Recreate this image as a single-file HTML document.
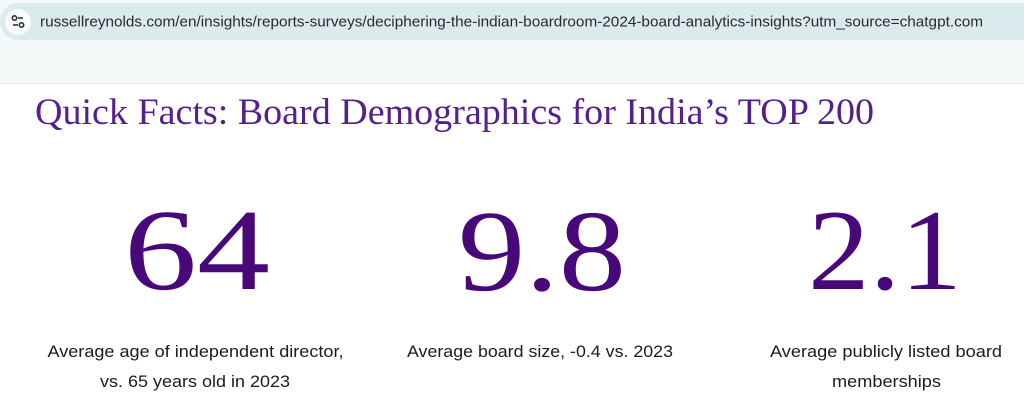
<!DOCTYPE html>
<html><head><meta charset="utf-8"><style>
html,body{margin:0;padding:0;background:#fff;width:1024px;height:420px;overflow:hidden}
svg{display:block}
</style></head><body>
<svg width="1024" height="420" viewBox="0 0 1024 420" xmlns="http://www.w3.org/2000/svg">
<rect x="0" y="0" width="1024" height="83" fill="#f3f8f9"/>
<rect x="0" y="83" width="1024" height="1" fill="#e2e8ea"/>
<rect x="0" y="3" width="1060" height="37" rx="18.5" fill="#dbeaed"/>
<circle cx="18" cy="22" r="13" fill="#f7fbfc"/>
<g stroke="#333" stroke-width="1.6" fill="none">
<circle cx="14.5" cy="18" r="2.2"/>
<line x1="18" y1="18" x2="23" y2="18"/>
<line x1="13" y1="25" x2="18" y2="25"/>
<circle cx="21.5" cy="25" r="2.2"/>
</g>
<text x="40" y="26.5" font-family="Liberation Sans, DejaVu Sans, sans-serif" font-size="15" fill="#2a2a2a" textLength="943" lengthAdjust="spacingAndGlyphs">russellreynolds.com/en/insights/reports-surveys/deciphering-the-indian-boardroom-2024-board-analytics-insights?utm_source=chatgpt.com</text>
<text x="35" y="124" font-family="Liberation Serif, serif" font-size="37" fill="#55208c" textLength="839" lengthAdjust="spacingAndGlyphs">Quick Facts: Board Demographics for India’s TOP 200</text>
<g font-family="Liberation Serif, serif" font-size="116" fill="#48087a" text-anchor="middle">
<text x="197" y="289" textLength="146" lengthAdjust="spacingAndGlyphs">64</text>
<text x="542" y="290" textLength="168" lengthAdjust="spacingAndGlyphs">9.8</text>
<text x="885" y="289" textLength="154" lengthAdjust="spacingAndGlyphs">2.1</text>
</g>
<g font-family="Liberation Sans, sans-serif" font-size="16.5" fill="#1c1c1c" text-anchor="middle">
<text x="195.5" y="357" textLength="296" lengthAdjust="spacingAndGlyphs">Average age of independent director,</text>
<text x="195" y="387" textLength="190" lengthAdjust="spacingAndGlyphs">vs. 65 years old in 2023</text>
<text x="540" y="357" textLength="266" lengthAdjust="spacingAndGlyphs">Average board size, -0.4 vs. 2023</text>
<text x="886" y="357" textLength="232" lengthAdjust="spacingAndGlyphs">Average publicly listed board</text>
<text x="886.5" y="387" textLength="109" lengthAdjust="spacingAndGlyphs">memberships</text>
</g>
</svg>
</body></html>
